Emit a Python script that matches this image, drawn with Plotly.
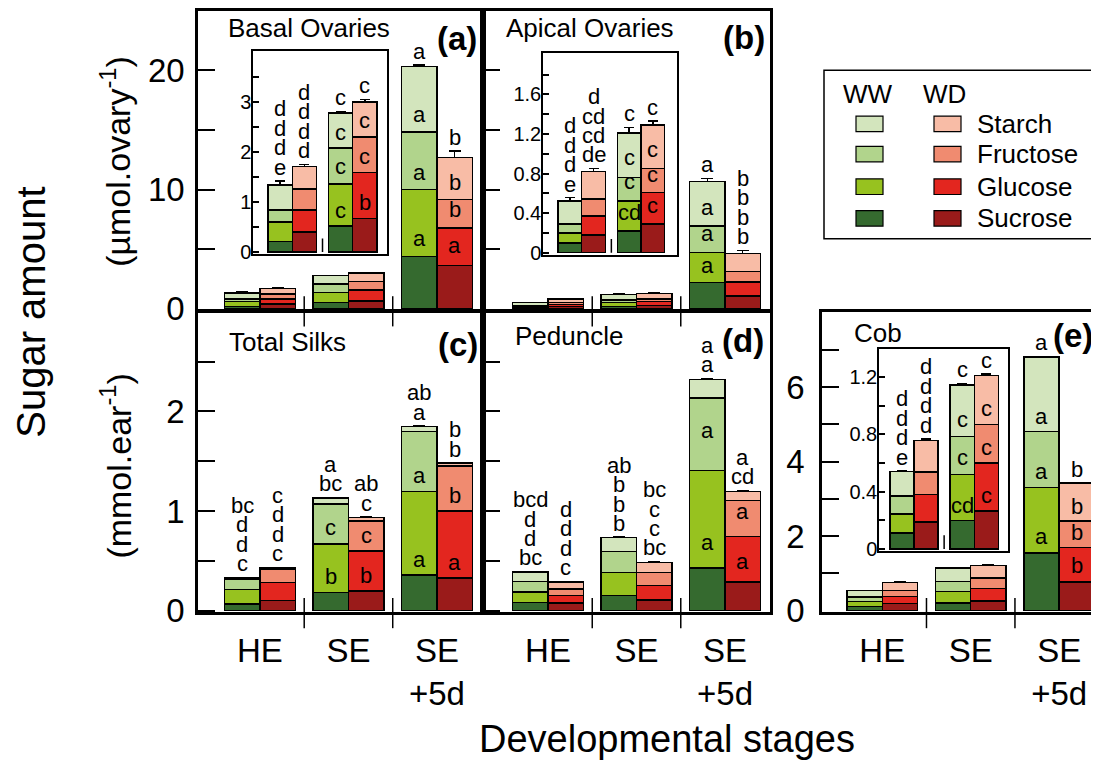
import plotly.graph_objects as go

W, H = 1099, 763          # target picture size
PAD = 8                   # page body margin of the browser
WF, HF = W - PAD, H - PAD  # figure size
FONT = "Liberation Sans, Arial, sans-serif"

stage_labels = ["HE", "SE", "SE<br>+5d"]
sugars = ["Sucrose", "Glucose", "Fructose", "Starch"]  # bottom -> top

# ---------------- data (segment amounts: HE, SE, SE+5d) ----------------
# (a) Basal ovaries, umol/ovary
basal_ww = {"Sucrose": [0.21, 0.52, 4.41], "Glucose": [0.39, 0.84, 5.58],
            "Fructose": [0.24, 0.72, 4.84], "Starch": [0.50, 0.70, 5.50]}
basal_wd = {"Sucrose": [0.40, 0.67, 3.62], "Glucose": [0.44, 0.92, 3.18],
            "Fructose": [0.42, 0.71, 2.37], "Starch": [0.45, 0.70, 3.54]}
basal_ww_err = {"Sucrose": [0.06, 0.02, 0.30], "Glucose": [0.04, 0.05, 0.20],
                "Fructose": [0.05, 0.02, 0.27], "Starch": [0.08, 0.03, 0.14]}
basal_wd_err = {"Sucrose": [0.03, 0.03, 0.46], "Glucose": [0.05, 0.02, 0.27],
                "Fructose": [0.01, 0.03, 0.22], "Starch": [0.04, 0.05, 0.54]}
basal_ww_letters = [["e", "d", "d", "d"], ["c", "c", "c", "c"], ["a", "a", "a", "a"]]
basal_wd_letters = [["d", "d", "d", "d"], ["b", "c", "c", "c"], ["a", "b", "b", "b"]]

# (b) Apical ovaries, umol/ovary
apical_ww = {"Sucrose": [0.10, 0.22, 2.23], "Glucose": [0.10, 0.30, 2.48],
             "Fructose": [0.09, 0.24, 2.23], "Starch": [0.23, 0.45, 3.75]}
apical_wd = {"Sucrose": [0.18, 0.29, 1.09], "Glucose": [0.19, 0.32, 1.17],
             "Fructose": [0.17, 0.24, 0.87], "Starch": [0.28, 0.44, 1.50]}
apical_ww_err = {"Sucrose": [0.015, 0.04, 0.22], "Glucose": [0.04, 0.056, 0.40],
                 "Fructose": [0.02, 0.05, 0.33], "Starch": [0.036, 0.056, 0.25]}
apical_wd_err = {"Sucrose": [0.04, 0.04, 0.54], "Glucose": [0.033, 0.036, 0.27],
                 "Fructose": [0.013, 0.043, 0.14], "Starch": [0.03, 0.04, 0.27]}
apical_ww_letters = [["e", "d", "d", "d"], ["cd", "c", "c", "c"], ["a", "a", "a", "a"]]
apical_wd_letters = [["de", "cd", "cd", "d"], ["c", "c", "c", "c"], ["b", "b", "b", "b"]]

# (c) Total silks, mmol/ear
silks_ww = {"Sucrose": [0.065, 0.18, 0.36], "Glucose": [0.145, 0.49, 0.835],
            "Fructose": [0.10, 0.40, 0.605], "Starch": [0.02, 0.06, 0.047]}
silks_wd = {"Sucrose": [0.10, 0.195, 0.33], "Glucose": [0.18, 0.405, 0.67],
            "Fructose": [0.14, 0.30, 0.45], "Starch": [0.01, 0.035, 0.03]}
silks_ww_err = {"Sucrose": [0.005, 0.016, 0.01], "Glucose": [0.005, 0.016, 0.01],
                "Fructose": [0.005, 0.005, 0.026], "Starch": [0.005, 0.005, 0.01]}
silks_wd_err = {"Sucrose": [0.005, 0.016, 0.01], "Glucose": [0.01, 0.01, 0.01],
                "Fructose": [0.005, 0.01, 0.01], "Starch": [0.005, 0.005, 0.005]}
silks_ww_letters = [["c", "d", "d", "bc"], ["b", "c", "bc", "a"], ["a", "a", "a", "ab"]]
silks_wd_letters = [["c", "d", "d", "c"], ["b", "c", "c", "ab"], ["a", "b", "b", "b"]]

# (d) Peduncle, mmol/ear
ped_ww = {"Sucrose": [0.08, 0.153, 0.43], "Glucose": [0.105, 0.228, 0.977],
          "Fructose": [0.107, 0.215, 0.727], "Starch": [0.095, 0.137, 0.185]}
ped_wd = {"Sucrose": [0.075, 0.107, 0.287], "Glucose": [0.078, 0.147, 0.459],
          "Fructose": [0.065, 0.127, 0.361], "Starch": [0.069, 0.101, 0.088]}
ped_ww_err = {"Sucrose": [0.005, 0.04, 0.107], "Glucose": [0.01, 0.05, 0.25],
              "Fructose": [0.007, 0.04, 0.195], "Starch": [0.005, 0.005, 0.01]}
ped_wd_err = {"Sucrose": [0.02, 0.015, 0.06], "Glucose": [0.01, 0.015, 0.10],
              "Fructose": [0.01, 0.02, 0.088], "Starch": [0.005, 0.01, 0.01]}
ped_ww_letters = [["bc", "d", "d", "bcd"], ["b", "b", "b", "ab"], ["a", "a", "a", "a"]]
ped_wd_letters = [["c", "d", "d", "d"], ["bc", "c", "c", "bc"], ["a", "a", "cd", "a"]]

# (e) Cob, mmol/ear
cob_ww = {"Sucrose": [0.11, 0.20, 1.55], "Glucose": [0.135, 0.32, 1.76],
          "Fructose": [0.125, 0.265, 1.50], "Starch": [0.17, 0.36, 2.00]}
cob_wd = {"Sucrose": [0.19, 0.265, 0.77], "Glucose": [0.19, 0.335, 0.93],
          "Fructose": [0.157, 0.27, 0.70], "Starch": [0.22, 0.34, 1.02]}
cob_ww_err = {"Sucrose": [0.005, 0.005, 0.04], "Glucose": [0.005, 0.016, 0.04],
              "Fructose": [0.005, 0.014, 0.01], "Starch": [0.005, 0.011, 0.01]}
cob_wd_err = {"Sucrose": [0.01, 0.005, 0.04], "Glucose": [0.012, 0.005, 0.01],
              "Fructose": [0.011, 0.005, 0.01], "Starch": [0.011, 0.011, 0.01]}
cob_ww_letters = [["e", "d", "d", "d"], ["cd", "c", "c", "c"], ["a", "a", "a", "a"]]
cob_wd_letters = [["d", "d", "d", "d"], ["c", "c", "c", "c"], ["b", "b", "b", "b"]]

# ---------------- styles / layout geometry ----------------
colors_ww = {"Sucrose": "#356a2f", "Glucose": "#97c21f", "Fructose": "#b1d48c", "Starch": "#d3e5bd"}
colors_wd = {"Sucrose": "#9a1b1a", "Glucose": "#e3261f", "Fructose": "#f08b70", "Starch": "#f8bca6"}


def fx(p):
    return (p - PAD) / WF


def fy(p):
    return 1 - (p - PAD) / HF


# axis index: (x domain px, y domain px, x range, y range)   (page pixels)
axes = {
    1: ((198, 483), (9, 316), (-0.70, 2.52), (-0.08, 24.98)),
    2: ((483, 770), (9, 316), (-0.734, 2.508), (-0.08, 24.98)),
    3: ((198, 483), (318, 626), (-0.70, 2.52), (-0.01, 3.0)),
    4: ((483, 770), (318, 626), (-0.734, 2.508), (-0.01, 3.0)),
    5: ((822, 1099), (318, 626), (-0.681, 2.45), (-0.026, 8.02)),
    6: ((253, 387), (50, 259), (-0.651, 1.568), (-0.045, 4.02)),
    7: ((543, 677), (52, 260), (-0.653, 1.607), (-0.027, 2.02)),
    8: ((879, 1008), (356, 564), (-0.58, 1.559), (-0.016, 1.397)),
}


def scale(i):
    (_, (y0, y1), _, (r0, r1)) = axes[i]
    return (y1 - y0) / (r1 - r0)


def xn(i):
    return "x" if i == 1 else f"x{i}"


def yn(i):
    return "y" if i == 1 else f"y{i}"


panels = [
    dict(main=1, inset=6, ww=basal_ww, wd=basal_wd, wwe=basal_ww_err, wde=basal_wd_err,
         wwl=basal_ww_letters, wdl=basal_wd_letters, n_in_ww=[0, 3, 3], n_in_wd=[0, 3, 3]),
    dict(main=2, inset=7, ww=apical_ww, wd=apical_wd, wwe=apical_ww_err, wde=apical_wd_err,
         wwl=apical_ww_letters, wdl=apical_wd_letters, n_in_ww=[0, 3, 3], n_in_wd=[0, 3, 0]),
    dict(main=3, inset=None, ww=silks_ww, wd=silks_wd, wwe=silks_ww_err, wde=silks_wd_err,
         wwl=silks_ww_letters, wdl=silks_wd_letters, n_in_ww=[0, 2, 2], n_in_wd=[0, 2, 2]),
    dict(main=4, inset=None, ww=ped_ww, wd=ped_wd, wwe=ped_ww_err, wde=ped_wd_err,
         wwl=ped_ww_letters, wdl=ped_wd_letters, n_in_ww=[0, 0, 2], n_in_wd=[0, 0, 2]),
    dict(main=5, inset=8, ww=cob_ww, wd=cob_wd, wwe=cob_ww_err, wde=cob_wd_err,
         wwl=cob_ww_letters, wdl=cob_wd_letters, n_in_ww=[0, 3, 3], n_in_wd=[0, 3, 3]),
]

fig = go.Figure()
annotations = []
shapes = []


def text(x, y, s, size, xanchor="center", yanchor="middle", angle=0, xref="paper", yref="paper"):
    annotations.append(dict(x=x, y=y, xref=xref, yref=yref, text=s, showarrow=False,
                            xanchor=xanchor, yanchor=yanchor, textangle=angle,
                            font=dict(size=size, family=FONT, color="black")))


def add_bars(ax, data, err, colors, offset, ncat, cap):
    cats = list(range(ncat))
    for s in sugars:
        fig.add_trace(go.Bar(
            x=[c + offset for c in cats], y=data[s][:ncat], width=0.4,
            xaxis=xn(ax), yaxis=yn(ax),
            marker=dict(color=colors[s], line=dict(color="black", width=1.5)),
            error_y=dict(type="data", symmetric=False, array=err[s][:ncat],
                         arrayminus=[0] * ncat, color="black", thickness=1.5, width=cap),
            showlegend=False, hoverinfo="skip"))


def add_letters(ax, cat, offset, data, err, letters, n_in):
    sc = scale(ax)
    tops, cum = [], 0.0
    for s in sugars:
        cum += data[s][cat]
        tops.append(cum)
    errs = [err[s][cat] for s in sugars]
    ys = []
    for k in range(n_in):
        ys.append(tops[k] + errs[k] + 15 / sc)
    top = tops[3] + errs[3]
    for j, k in enumerate(range(n_in, 4)):
        ys.append(top + (14 + 20 * j) / sc)
    for k in range(4):
        text(cat + offset, ys[k], letters[cat][k], 22, xref=xn(ax), yref=yn(ax))


for p in panels:
    add_bars(p["main"], p["ww"], p["wwe"], colors_ww, -0.2, 3, 6)
    add_bars(p["main"], p["wd"], p["wde"], colors_wd, 0.2, 3, 6)
    if p["inset"]:
        add_bars(p["inset"], p["ww"], p["wwe"], colors_ww, -0.2, 2, 5)
        add_bars(p["inset"], p["wd"], p["wde"], colors_wd, 0.2, 2, 5)
    for cat in range(3):
        ax = p["inset"] if (p["inset"] and cat < 2) else p["main"]
        add_letters(ax, cat, -0.2, p["ww"], p["wwe"], p["wwl"], p["n_in_ww"][cat])
        add_letters(ax, cat, 0.2, p["wd"], p["wde"], p["wdl"], p["n_in_wd"][cat])

# ---------------- axes ----------------
layout = dict(width=WF, height=HF, margin=dict(l=0, r=0, t=0, b=0),
              paper_bgcolor="white", plot_bgcolor="white", barmode="stack",
              font=dict(family=FONT, color="black"), showlegend=False,
              title=dict(text="Developmental stages", x=fx(667), xanchor="center",
                         xref="container", yref="container", y=fy(739), yanchor="middle",
                         font=dict(size=38, family=FONT, color="black")))

y_ticks = {
    1: ([0, 5, 10, 15, 20], ["0", "", "10", "", "20"], True, 4),
    2: ([0, 5, 10, 15, 20], [""] * 5, False, 4),
    3: ([0, 0.5, 1, 1.5, 2, 2.5], ["0", "", "1", "", "2", ""], True, 4),
    4: ([0, 0.5, 1, 1.5, 2, 2.5], [""] * 6, False, 4),
    5: ([0, 1, 2, 3, 4, 5, 6, 7], ["0", "", "2", "", "4", "", "6", ""], True, 8),
    6: ([0, 0.5, 1, 1.5, 2, 2.5, 3, 3.5], ["0", "", "1", "", "2", "", "3", ""], True, -4),
    7: ([0, 0.2, 0.4, 0.6, 0.8, 1.0, 1.2, 1.4, 1.6, 1.8],
        ["0", "", "0.4", "", "0.8", "", "1.2", "", "1.6", ""], True, -4),
    8: ([0, 0.2, 0.4, 0.6, 0.8, 1.0, 1.2], ["0", "", "0.4", "", "0.8", "", "1.2"], True, -4),
}

for i, ((x0, x1), (y0, y1), xr, yr) in axes.items():
    inset = i >= 6
    lw = 1.5 if inset else 2.5
    xkey = "xaxis" if i == 1 else f"xaxis{i}"
    ykey = "yaxis" if i == 1 else f"yaxis{i}"
    bottom_row = i in (3, 4, 5)
    layout[xkey] = dict(domain=[fx(x0), min(1.0, fx(x1))], range=list(xr), anchor=yn(i),
                        showline=True, linecolor="black", linewidth=lw, mirror=True,
                        showgrid=False, zeroline=False, ticks="", fixedrange=True,
                        tickvals=[0, 1, 2], ticktext=stage_labels,
                        showticklabels=bottom_row,
                        tickfont=dict(size=33, family=FONT, color="black"),
                        ticklabelstandoff=8)
    tv, tt, show, so = y_ticks[i]
    layout[ykey] = dict(domain=[fy(y1), fy(y0)], range=list(yr), anchor=xn(i),
                        showline=True, linecolor="black", linewidth=lw,
                        mirror=(i != 5), showgrid=False, zeroline=False,
                        ticks="inside", ticklen=6 if inset else 17, tickwidth=1.5,
                        tickcolor="black", tickvals=tv, ticktext=tt, showticklabels=show,
                        tickfont=dict(size=20 if inset else 33, family=FONT, color="black"),
                        ticklabelstandoff=so, fixedrange=True)

# category separator ticks
for i, bot in ((1, 316), (2, 316), (3, 626), (4, 626), (5, 626)):
    for xv in (0.5, 1.5):
        shapes.append(dict(type="line", xref=xn(i), yref="paper", x0=xv, x1=xv,
                           y0=fy(bot + 17), y1=fy(bot - 14),
                           line=dict(color="black", width=1.5)))
for i in (6, 7, 8):
    shapes.append(dict(type="line", xref=xn(i), yref=yn(i), x0=0.5, x1=0.5,
                       y0=0, y1=14 / scale(i), line=dict(color="black", width=1.5)))

# panel titles and panel letters
titles = [("Basal Ovaries", 226, 27, "(a)", 479, 37),
          ("Apical Ovaries", 504, 27, "(b)", 767, 36),
          ("Total Silks", 227, 349, "(c)", 480, 352),
          ("Peduncle", 513, 343, "(d)", 766, 347),
          ("Cob", 852, 340, "(e)", 1095, 342)]
for t, tx, ty, lab, lx, ly in titles:
    text(fx(tx), fy(ty), t, 26, xanchor="left")
    text(fx(lx), fy(ly), f"<b>{lab}</b>", 33, xanchor="right")

# y axis titles
text(fx(31), fy(319), "Sugar amount", 40, angle=-90)
text(fx(116), fy(164), "(µmol.ovary<sup>-1</sup>)", 34, angle=-90)
text(fx(116), fy(476), "(mmol.ear<sup>-1</sup>)", 34, angle=-90)

# legend (drawn)
shapes.append(dict(type="rect", xref="paper", yref="paper", x0=fx(824), x1=fx(1097),
                   y0=fy(243), y1=fy(70), line=dict(color="black", width=1.5),
                   fillcolor="white", layer="below"))
text(fx(868), fy(94), "WW", 26)
text(fx(944), fy(94), "WD", 26)
legend_rows = [("Starch", 125), ("Fructose", 156), ("Glucose", 189.5), ("Sucrose", 222)]
for s, yc in legend_rows:
    for (xa, xb), cols in (((856, 883), colors_ww), ((934, 961), colors_wd)):
        shapes.append(dict(type="rect", xref="paper", yref="paper", x0=fx(xa), x1=fx(xb),
                           y0=fy(yc + 8), y1=fy(yc - 8), fillcolor=cols[s],
                           line=dict(color="black", width=1.2)))
    text(fx(975), fy(yc), s, 26, xanchor="left")

layout["annotations"] = annotations
layout["shapes"] = shapes
fig.update_layout(**layout)
fig.write_html("out.html")
